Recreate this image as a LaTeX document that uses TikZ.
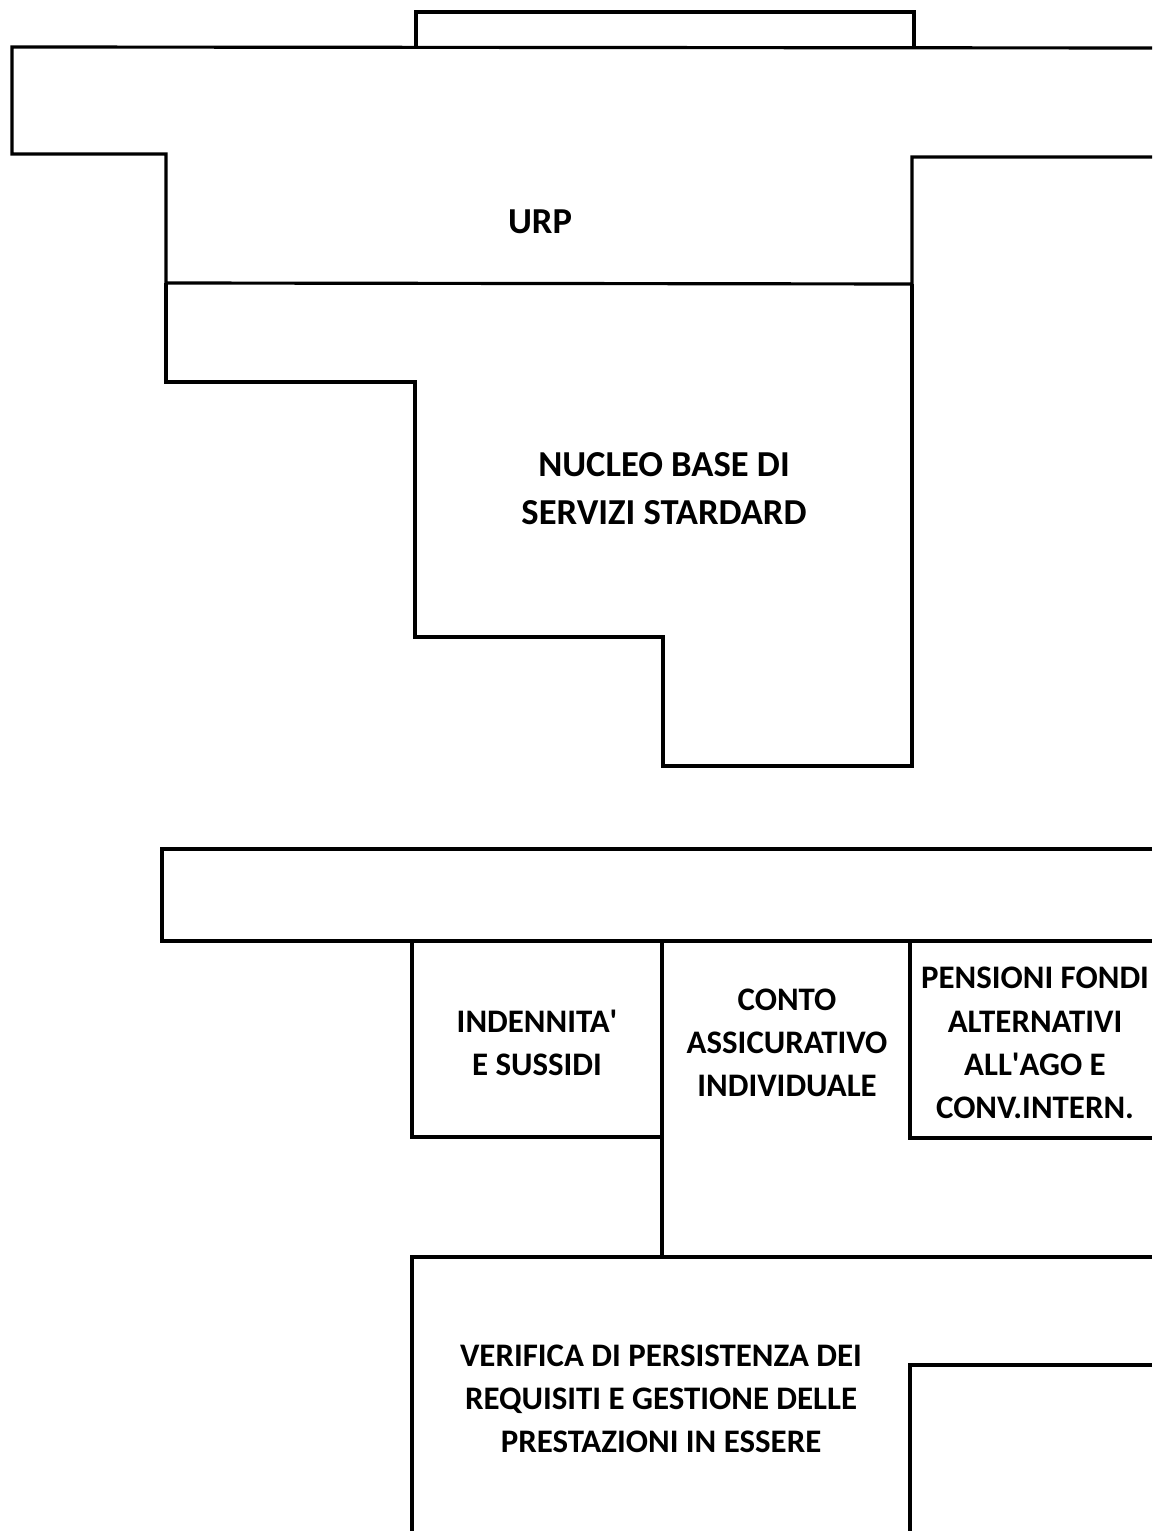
\documentclass[tikz,border=0pt]{standalone}
\usepackage{fontspec}
\setmainfont{Carlito}

\begin{document}
\begin{tikzpicture}[x=0.01cm, y=-0.01cm, line width=0.9pt, line join=miter,
  lbl/.style={align=center, font=\bfseries\fontsize{10.4}{13.6}\selectfont},
  lblsmall/.style={align=center, font=\bfseries\fontsize{9.35}{12.3}\selectfont}]
  \useasboundingbox (0,0) rectangle (1152,1531);
  % Top tab
  \draw (416,47) -- (416,12) -- (914,12) -- (914,47);
  % URP block
  \draw (1152,48) -- (12,47) -- (12,154) -- (166,154) -- (166,283)
    -- (912,284) -- (912,157) -- (1152,157);
  \node[lbl] (urp) at (540,222) {URP};
  % Nucleo base block
  \draw (166,283) -- (166,382) -- (415,382) -- (415,637) -- (663,637)
    -- (663,766) -- (912,766) -- (912,284);
  \node[lbl] (nucleo) at (664,489) {NUCLEO BASE DI\\SERVIZI STARDARD};
  % Lower bar
  \draw (1152,849) -- (162,849) -- (162,941) -- (1152,941);
  % Indennita' box
  \draw (412,941) -- (412,1137) -- (662,1137);
  \node[lblsmall] (indennita) at (537,1043) {INDENNITA\textquotesingle\\E SUSSIDI};
  % Conto assicurativo
  \draw (662,941) -- (662,1257);
  \node[lblsmall] (conto) at (787,1043) {CONTO\\ASSICURATIVO\\INDIVIDUALE};
  % Pensioni box
  \draw (910,941) -- (910,1138) -- (1152,1138);
  \node[lblsmall] (pensioni) at (1035,1043)
    {PENSIONI FONDI\\ALTERNATIVI\\ALL\textquotesingle AGO E\\CONV.INTERN.};
  % Verifica block
  \draw (412,1531) -- (412,1257) -- (1152,1257);
  \draw (910,1531) -- (910,1365) -- (1152,1365);
  \node[lblsmall] (verifica) at (661,1399)
    {VERIFICA DI PERSISTENZA DEI\\REQUISITI E GESTIONE DELLE\\PRESTAZIONI IN ESSERE};
\end{tikzpicture}
\end{document}
